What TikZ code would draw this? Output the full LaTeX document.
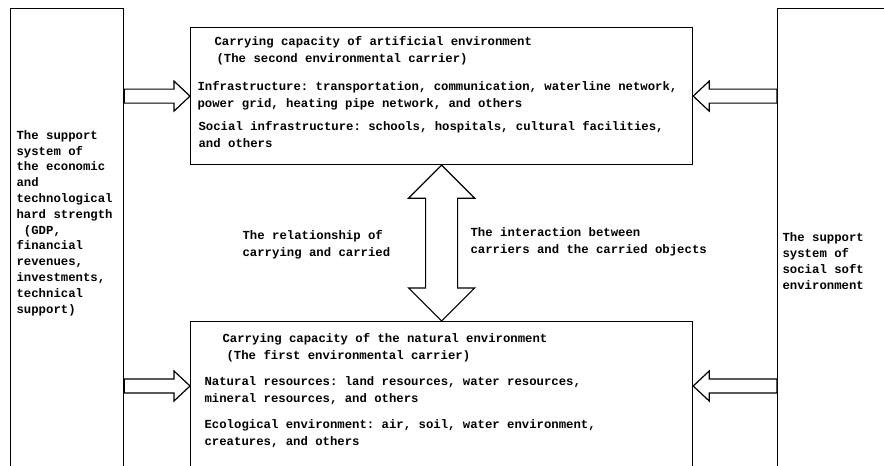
\documentclass[tikz,border=0pt]{standalone}
\usepackage{fontspec}
\setmonofont{Liberation Mono}
\usetikzlibrary{calc}

\tikzset{
  fatarrow/.style n args={3}{to path={
    ($(\tikztostart)!#1!90:(\tikztotarget)$)
    -- ($($(\tikztotarget)!#3!(\tikztostart)$)!#1!90:(\tikztotarget)$)
    -- ($($(\tikztotarget)!#3!(\tikztostart)$)!#2!90:(\tikztotarget)$)
    -- (\tikztotarget)
    -- ($($(\tikztotarget)!#3!(\tikztostart)$)!#2!-90:(\tikztotarget)$)
    -- ($($(\tikztotarget)!#3!(\tikztostart)$)!#1!-90:(\tikztotarget)$)
    -- ($(\tikztostart)!#1!-90:(\tikztotarget)$) -- cycle}},
  dblarrow/.style n args={3}{to path={
    ($($(\tikztostart)!#3!(\tikztotarget)$)!#1!90:(\tikztotarget)$)
    -- ($($(\tikztotarget)!#3!(\tikztostart)$)!#1!90:(\tikztotarget)$)
    -- ($($(\tikztotarget)!#3!(\tikztostart)$)!#2!90:(\tikztotarget)$)
    -- (\tikztotarget)
    -- ($($(\tikztotarget)!#3!(\tikztostart)$)!#2!-90:(\tikztotarget)$)
    -- ($($(\tikztotarget)!#3!(\tikztostart)$)!#1!-90:(\tikztotarget)$)
    -- ($($(\tikztostart)!#3!(\tikztotarget)$)!#1!-90:(\tikztotarget)$)
    -- ($($(\tikztostart)!#3!(\tikztotarget)$)!#2!-90:(\tikztotarget)$)
    -- (\tikztostart)
    -- ($($(\tikztostart)!#3!(\tikztotarget)$)!#2!90:(\tikztotarget)$) -- cycle}}
}

\begin{document}
\begin{tikzpicture}[x=1pt,y=-1pt,line width=1.2pt,
  box/.style={draw,rectangle,inner sep=0pt,anchor=north west},
  txt/.style={anchor=base west,align=left,inner sep=0pt,
    font=\ttfamily\bfseries\fontsize{12.3}{16.3}\selectfont},
  side/.style={txt,font=\ttfamily\bfseries\fontsize{12.3}{15.8}\selectfont},
  hollow/.style={draw,fill=white,line join=miter}]
 \useasboundingbox (0,0) rectangle (884,466);
 \clip (0,0) rectangle (884,466);
 % support systems on both sides
 \node[box,minimum width=113pt,minimum height=480pt] (hard) at (10,8) {};
 \node[box,minimum width=150pt,minimum height=480pt] (soft) at (777,8) {};
 % the two carriers
 \node[box,minimum width=502pt,minimum height=137pt] (artif) at (190,27) {};
 \node[box,minimum width=502pt,minimum height=160pt] (natural) at (190,321) {};
 \coordinate (lowrow) at (0,386);
 % texts (anchored at the last baseline)
 \node[side] (hardtxt) at (16,313) {The support\\system of\\the economic\\and\\technological\\hard strength\\\ (GDP,\\financial\\revenues,\\investments,\\technical\\support)};
 \node[side] (softtxt) at (782,289) {The support\\system of\\social soft\\environment};
 \node[txt] (artiftitle) at (214,62) {Carrying capacity of artificial environment\\\hspace*{2pt}(The second environmental carrier)};
 \node[txt] (infra) at (197,107) {Infrastructure: transportation, communication, waterline network,\\power grid, heating pipe network, and others};
 \node[txt] (social) at (198,147) {Social infrastructure: schools, hospitals, cultural facilities,\\and others};
 \node[txt] (nattitle) at (222,359) {Carrying capacity of the natural environment\\\hspace*{4pt}(The first environmental carrier)};
 \node[txt] (resources) at (204,402) {Natural resources: land resources, water resources,\\mineral resources, and others};
 \node[txt] (ecology) at (204,445) {Ecological environment: air, soil, water environment,\\creatures, and others};
 \node[txt] (relation) at (242,256) {The relationship of\\carrying and carried};
 \node[txt] (interact) at (470,253) {The interaction between\\carriers and the carried objects};
 % hollow arrows
 \draw[hollow,fatarrow={7pt}{15pt}{16pt}] (hard.east |- artif.west) to (artif.west);
 \draw[hollow,fatarrow={7pt}{15pt}{16pt}] (soft.west |- artif.east) to (artif.east);
 \draw[hollow,fatarrow={7pt}{15pt}{16pt}] (hard.east |- lowrow) to (natural.west |- lowrow);
 \draw[hollow,fatarrow={7pt}{15pt}{16pt}] (soft.west |- lowrow) to (natural.east |- lowrow);
 \draw[hollow,dblarrow={16pt}{33pt}{33pt}] (artif.south) to (natural.north);
\end{tikzpicture}
\end{document}
